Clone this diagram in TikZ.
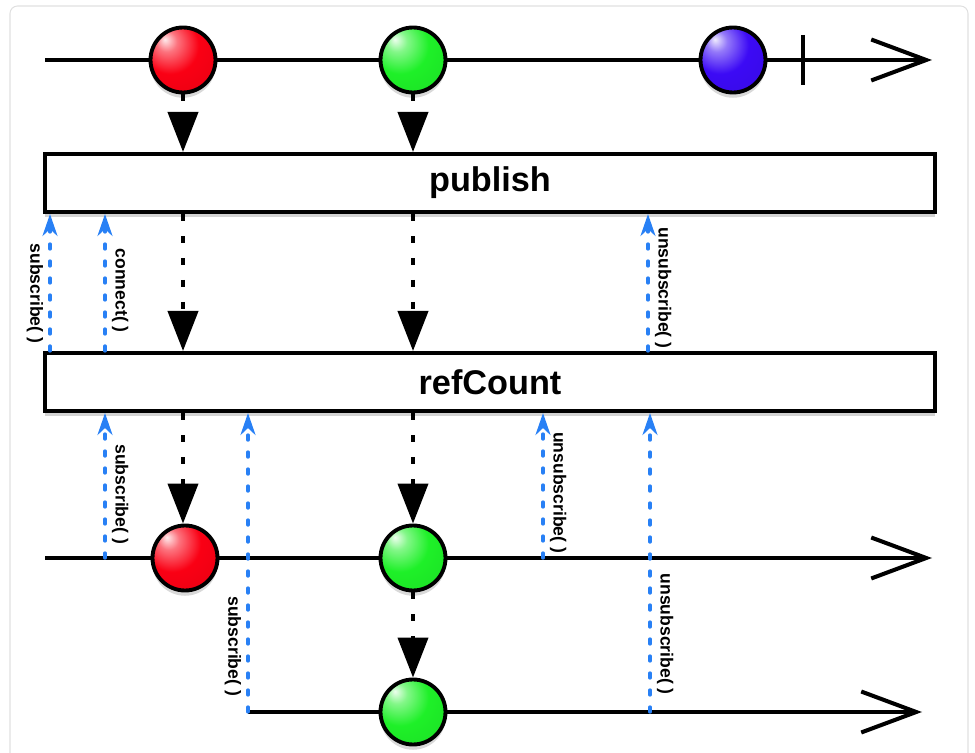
\documentclass[tikz,border=0pt]{standalone}
\usepackage{fontspec}
\setmainfont{Liberation Sans}
\usetikzlibrary{arrows.meta}
\usetikzlibrary{shadows}
\definecolor{callblue}{RGB}{40,128,245}
\definecolor{ballred}{RGB}{250,0,20}
\definecolor{ballgreen}{RGB}{30,240,40}
\definecolor{ballblue}{RGB}{60,10,245}
\colorlet{ballc}{ballred}
\pgfdeclareradialshading[ballc]{shiny}{\pgfqpoint{-14bp}{16bp}}{color(0bp)=(ballc!8!white); color(8bp)=(ballc!55!white); color(22bp)=(ballc); color(46bp)=(ballc!92!black); color(60bp)=(ballc!55!black); color(75bp)=(black)}
\tikzset{
	ball/.style={circle, draw, line width=2.2pt, minimum size=1.3cm, inner sep=0pt, /utils/exec={\colorlet{ballc}{#1}}, shading=shiny, drop shadow={opacity=0.3, shadow xshift=0pt, shadow yshift=-3pt}},
	opbox/.style={draw, line width=2.3pt, fill=white, minimum width=17.8cm, minimum height=1.16cm, font=\fontsize{19.5}{22}\selectfont\bfseries, drop shadow={opacity=0.35, shadow xshift=0pt, shadow yshift=-3pt}},
	timeline/.style={line width=2.3pt, -{Straight Barb[length=1.1cm, width=0.82cm]}},
	emit/.style={line width=2.3pt, dash pattern=on 0.14cm off 0.3cm, -{Triangle[length=0.8cm, width=0.6cm]}},
	call/.style={callblue, line width=1.9pt, line cap=round, dash pattern=on 0.1cm off 0.24cm, -{Stealth[length=0.44cm, width=0.3cm, inset=0.14cm]}},
	lbl/.style={font=\fontsize{10}{12}\selectfont\bfseries, text=black, rotate=-90, inner sep=3pt}
}
\begin{document}
\begin{tikzpicture}[x=0.02cm, y=-0.02cm]
	\useasboundingbox (0,0) rectangle (975,753);
	\clip (0,0) rectangle (975,753);
	\draw[black!12, rounded corners=0.15cm, line width=0.6pt] (10,6) rectangle (968,790);

	% source
	\coordinate (s0) at (45,60);
	\coordinate (e0) at (932,60);
	\coordinate (done) at (803,60);
	\draw[timeline] (s0) -- (e0);
	\draw[line width=2.3pt] (done) ++(0,-25) -- ++(0,50);
	\node[ball=ballred, shading=shiny] (r0) at (183,60) {};
	\node[ball=ballgreen, shading=shiny] (g0) at (413,60) {};
	\node[ball=ballblue, shading=shiny] (b0) at (733,60) {};

	% operators
	\node[opbox] (pub) at (490,183) {publish};
	\node[opbox] (rc) at (490,382) {refCount};

	% subscribers
	\coordinate (s1) at (45,558);
	\coordinate (e1) at (932,558);
	\coordinate (s2) at (248,712);
	\coordinate (e2) at (922,712);
	\draw[timeline] (s1) -- (e1);
	\draw[timeline] (s2) -- (e2);
	\node[ball=ballred, shading=shiny] (r1) at (185,558) {};
	\node[ball=ballgreen, shading=shiny] (g1) at (413,558) {};
	\node[ball=ballgreen, shading=shiny] (g2) at (413,712) {};

	\foreach \b in {r0,g0} {
		\draw[emit] (\b.south) -- (\b.south |- pub.north);
	}
	\draw[emit] (r0 |- pub.south) -- (r0 |- rc.north);
	\draw[emit] (g0 |- pub.south) -- (g0 |- rc.north);
	\draw[emit] (r0 |- rc.south) -- (r0 |- r1.north);
	\draw[emit] (g0 |- rc.south) -- (g1.north);
	\draw[emit] (g1.south) -- (g2.north);

	\foreach \x/\side/\t/\p in {50/north/subscribe/0.42, 105/south/connect/0.44, 648/south/unsubscribe/0.46} {
		\coordinate (f) at (\x,0);
		\draw[call] (rc.north -| f) -- (pub.south -| f) node[lbl, pos=\p, anchor=\side] {\t( )};
	}
	\foreach \x/\y/\side/\t/\p in {105/558/south/subscribe/0.44, 248/712/north/subscribe/0.22, 543/558/south/unsubscribe/0.45, 650/712/south/unsubscribe/0.26} {
		\coordinate (f) at (\x,\y);
		\draw[call] (f) -- (f |- rc.south) node[lbl, pos=\p, anchor=\side] {\t( )};
	}
\end{tikzpicture}
\end{document}
